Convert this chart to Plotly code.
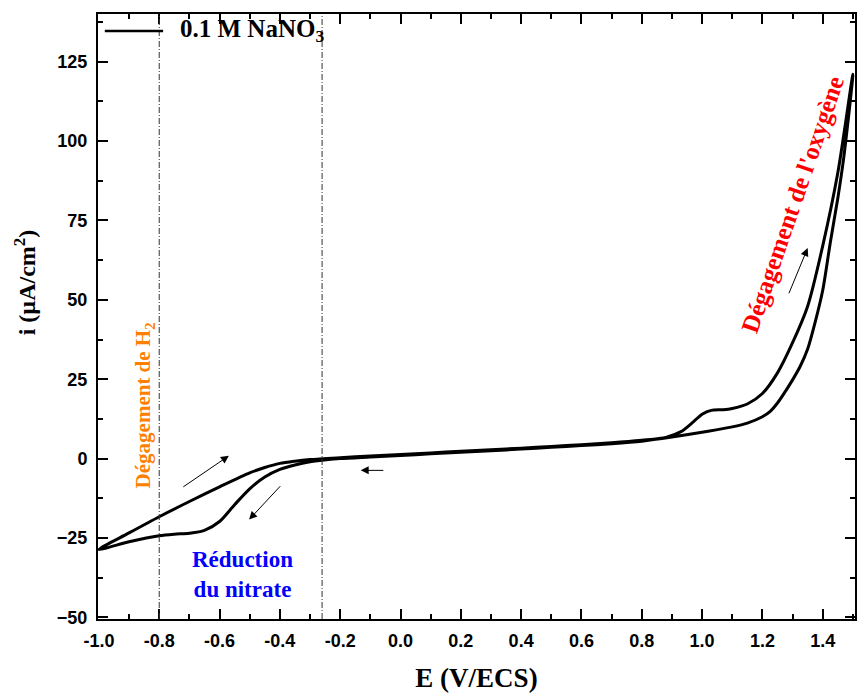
import plotly.graph_objects as go

# Forward (anodic) scan
E_fwd = [-1.00, -0.90, -0.80, -0.70, -0.60, -0.50, -0.45, -0.40, -0.35, -0.30, -0.20, -0.10,
         0.00, 0.10, 0.20, 0.30, 0.40, 0.50, 0.60, 0.70, 0.80, 0.88, 0.93, 0.97, 1.00, 1.03,
         1.07, 1.10, 1.15, 1.20, 1.25, 1.30, 1.35, 1.40, 1.45, 1.50]
i_fwd = [-28.6, -23.4, -18.3, -13.5, -8.9, -4.5, -2.8, -1.5, -0.8, -0.3, 0.3, 0.8,
         1.3, 1.8, 2.3, 2.8, 3.3, 3.8, 4.4, 5.0, 5.8, 6.7, 8.5, 11.5, 14.0, 15.2,
         15.4, 15.8, 17.2, 20.5, 27.0, 36.5, 48.0, 67.0, 90.0, 121.0]

# Reverse (cathodic) scan
E_rev = [1.50, 1.47, 1.45, 1.425, 1.40, 1.375, 1.35, 1.325, 1.30, 1.275, 1.25, 1.225, 1.20,
         1.15, 1.10, 1.02, 0.90, 0.80, 0.70, 0.60, 0.50, 0.40, 0.30, 0.20, 0.10, 0.00,
         -0.10, -0.20, -0.26, -0.30, -0.35, -0.40, -0.45, -0.50, -0.55, -0.60, -0.65,
         -0.70, -0.75, -0.80, -0.90, -1.00]
i_rev = [121.0, 95.0, 82.0, 68.0, 53.0, 43.0, 34.5, 29.0, 24.8, 21.0, 17.5, 14.8, 13.2,
         11.2, 10.0, 8.6, 6.8, 5.5, 4.7, 4.1, 3.6, 3.0, 2.5, 2.0, 1.5, 1.0,
         0.5, 0.0, -0.5, -1.0, -2.0, -3.4, -5.8, -9.5, -14.5, -19.8, -22.6,
         -23.5, -23.8, -24.3, -26.2, -28.6]

x_ticks = [-1.0, -0.8, -0.6, -0.4, -0.2, 0.0, 0.2, 0.4, 0.6, 0.8, 1.0, 1.2, 1.4]
y_ticks = [-50, -25, 0, 25, 50, 75, 100, 125]
vlines = [-0.80, -0.26]
legend_name = "0.1 M NaNO<sub>3</sub>"

serif = "Liberation Serif, Times New Roman, serif"
sans = "Liberation Sans, Arial, sans-serif"

fig = go.Figure()
fig.add_trace(go.Scatter(
    x=E_fwd + E_rev[1:], y=i_fwd + i_rev[1:], mode="lines",
    line=dict(color="black", width=3, shape="spline", smoothing=0.8),
    name=legend_name, showlegend=False))

for v in vlines:
    fig.add_shape(type="line", x0=v, x1=v, y0=0, y1=1, xref="x", yref="paper",
                  line=dict(color="#333333", width=1, dash="6px,2px,1px,2px"))

# legend (manual)
fig.add_shape(type="line", xref="paper", yref="paper", x0=0.009, x1=0.086, y0=0.972, y1=0.972,
              line=dict(color="black", width=2.5))
fig.add_annotation(xref="paper", yref="paper", x=0.106, y=0.972, xanchor="left", yanchor="middle",
                   text=legend_name, showarrow=False,
                   font=dict(family=serif, size=25, color="black", weight="bold"))

# text annotations
fig.add_annotation(x=-0.851, y=16.7, text="Dégagement de H<sub>2</sub>", textangle=-90,
                   showarrow=False, font=dict(family=serif, size=21, color="#FF8000", weight="bold"))
fig.add_annotation(x=-0.523, y=-36.6, text="Réduction<br>du nitrate", showarrow=False,
                   font=dict(family=serif, size=23, color="#0000FF", weight="bold"))
fig.add_annotation(x=1.300, y=80.0, text="Dégagement de l'oxygène", textangle=-71,
                   showarrow=False, font=dict(family=serif, size=25, color="#FF0000", weight="bold"))

# axis title for y (placed as annotation to match vertical offset)
fig.add_annotation(xref="paper", yref="paper", x=-0.096, y=0.557, xanchor="center", yanchor="middle",
                   text="i (µA/cm<sup>2</sup>)", textangle=-90, showarrow=False,
                   font=dict(family=serif, size=24, color="black", weight="bold"))

# arrows
arrows = [((-0.725, -9.2), (-0.569, 0.9)),
          ((-0.394, -8.2), (-0.502, -19.2)),
          ((-0.052, -3.7), (-0.132, -3.7)),
          ((1.286, 51.6), (1.350, 66.3))]
for (tx, ty), (hx, hy) in arrows:
    fig.add_annotation(x=hx, y=hy, ax=tx, ay=ty, xref="x", yref="y", axref="x", ayref="y",
                       text="", showarrow=True, arrowhead=2, arrowsize=1.6, arrowwidth=1,
                       arrowcolor="black")

axis_common = dict(showline=True, linecolor="black", linewidth=2, mirror="allticks",
                   ticks="inside", ticklen=10, tickwidth=2, tickcolor="black",
                   showgrid=False, zeroline=False, automargin=False,
                   tickfont=dict(family=sans, size=18, color="black", weight="bold"))

fig.update_xaxes(range=[-1.003, 1.507], tickvals=x_ticks,
                 ticktext=[f"{v:.1f}" for v in x_ticks], ticklabelstandoff=4,
                 minor=dict(ticks="inside", ticklen=5, tickwidth=2, tickcolor="black", dtick=0.1),
                 title=dict(text="E (V/ECS)", standoff=24,
                            font=dict(family=serif, size=27, color="black", weight="bold")),
                 **axis_common)
fig.update_yaxes(range=[-50.5, 140], tickvals=y_ticks, ticklabelstandoff=5,
                 minor=dict(ticks="inside", ticklen=5, tickwidth=2, tickcolor="black", dtick=12.5, tick0=0),
                 **axis_common)

fig.update_layout(width=860, height=693, margin=dict(l=98, r=5, t=14, b=74),
                  paper_bgcolor="white", plot_bgcolor="white", showlegend=False)

fig.write_html("out.html")
